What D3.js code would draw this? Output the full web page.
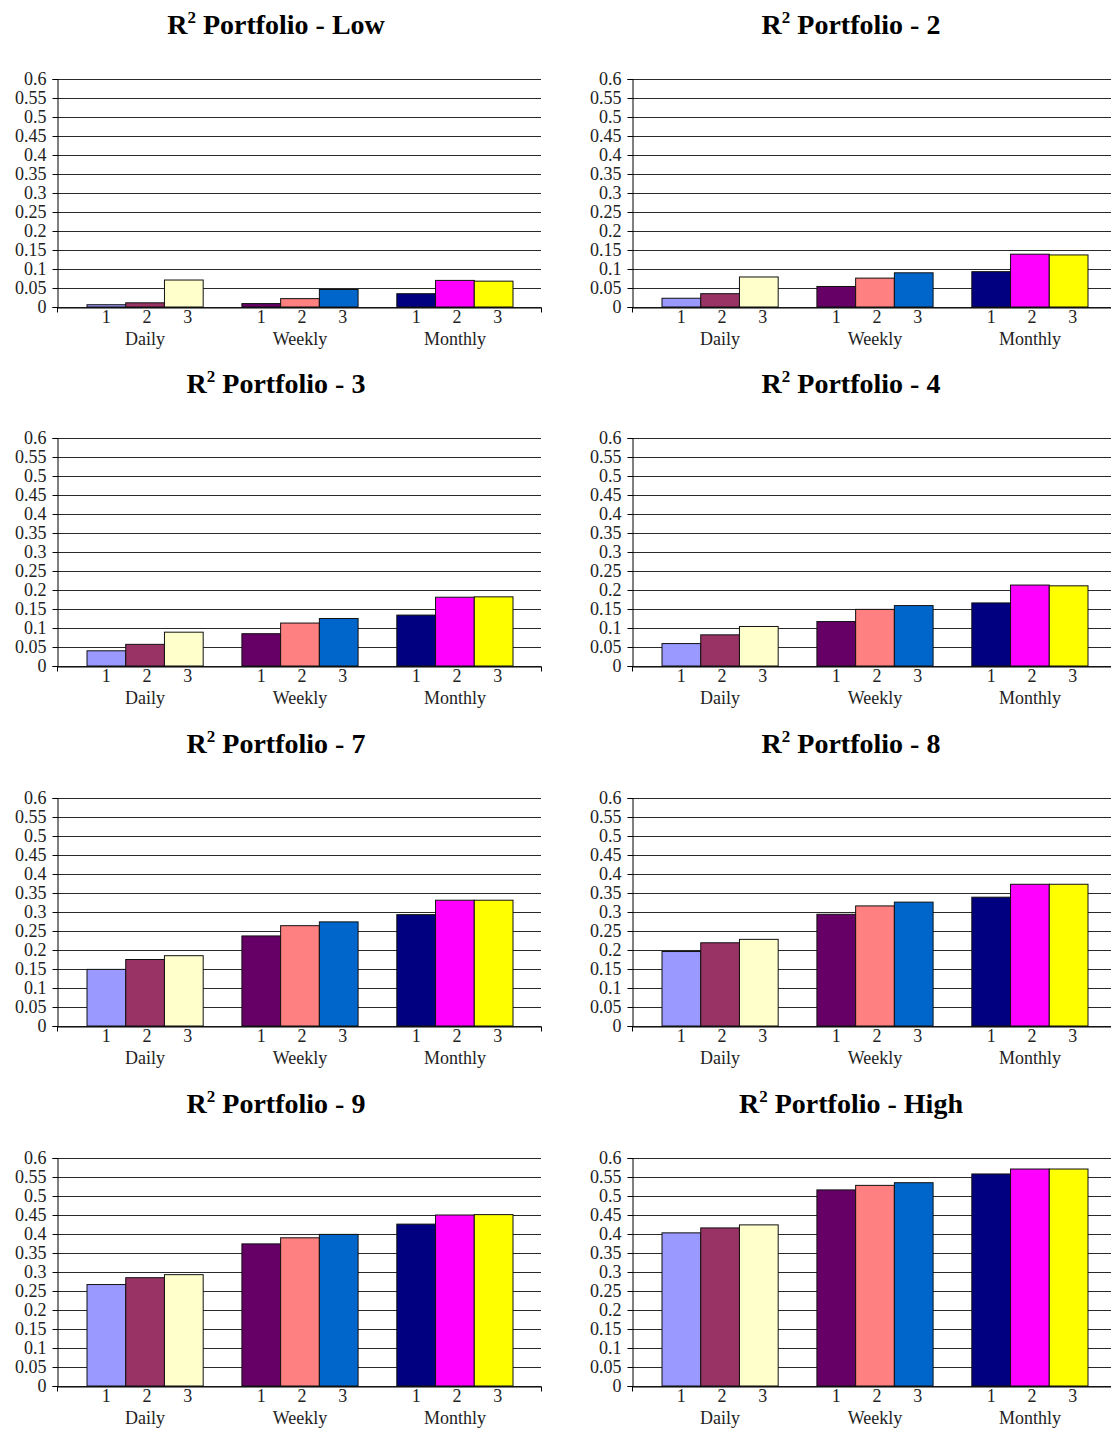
<!DOCTYPE html>
<html><head><meta charset="utf-8">
<script src="https://cdn.jsdelivr.net/npm/d3@7"></script>
<style>body{margin:0;background:#fff} svg{display:block}</style>
</head><body>
<svg id="chart" width="1111" height="1430"></svg>
<script>
// ---- data ----
const panelNames = ["Low", "2", "3", "4", "7", "8", "9", "High"];
const frequencies = ["Daily", "Weekly", "Monthly"];
const lags = ["1", "2", "3"];
const yTickValues = [0, 0.05, 0.1, 0.15, 0.2, 0.25, 0.3, 0.35, 0.4, 0.45, 0.5, 0.55, 0.6];
const yTickLabels = ["0", "0.05", "0.1", "0.15", "0.2", "0.25", "0.3", "0.35", "0.4", "0.45", "0.5", "0.55", "0.6"];

// values per panel: [Daily 1,2,3], [Weekly 1,2,3], [Monthly 1,2,3]
const r2Low  = [[0.006, 0.011, 0.071], [0.009, 0.022, 0.046], [0.035, 0.070, 0.068]];
const r2P2   = [[0.023, 0.035, 0.079], [0.054, 0.076, 0.090], [0.093, 0.139, 0.137]];
const r2P3   = [[0.040, 0.057, 0.089], [0.085, 0.113, 0.125], [0.134, 0.181, 0.182]];
const r2P4   = [[0.059, 0.082, 0.104], [0.117, 0.149, 0.159], [0.166, 0.213, 0.211]];
const r2P7   = [[0.149, 0.175, 0.185], [0.237, 0.264, 0.274], [0.293, 0.331, 0.331]];
const r2P8   = [[0.196, 0.219, 0.228], [0.294, 0.316, 0.326], [0.339, 0.373, 0.373]];
const r2P9   = [[0.267, 0.285, 0.293], [0.374, 0.390, 0.399], [0.426, 0.450, 0.451]];
const r2High = [[0.403, 0.416, 0.424], [0.516, 0.528, 0.535], [0.558, 0.571, 0.571]];
const panelValues = [r2Low, r2P2, r2P3, r2P4, r2P7, r2P8, r2P9, r2High];

const barColors = [
  ["#9999FF", "#993366", "#FFFFCC"],
  ["#660066", "#FF8080", "#0066CC"],
  ["#000080", "#FF00FF", "#FFFF00"]
];

// ---- layout ----
const font = "'Liberation Serif','Times New Roman',serif";
const colLeft = [57, 632];
const rowTop = [79, 438, 798, 1158];
const plotW = 484, plotH = 228;

const svg = d3.select("#chart");
const y = d3.scaleLinear().domain([0, 0.6]).range([plotH, 0]);
const xGroup = d3.scaleBand().domain(frequencies).range([30, 456]).paddingInner(0.25).paddingOuter(0);
const xSub = d3.scaleBand().domain(lags).range([0, xGroup.bandwidth()]);
const xEnds = d3.scaleLinear().domain([0, 1]).range([0, plotW]);

panelNames.forEach((name, i) => {
  const col = i % 2, row = Math.floor(i / 2);
  const g = svg.append("g").attr("transform", `translate(${colLeft[col]},${rowTop[row]})`);

  // title
  const t = g.append("text")
    .attr("x", 219).attr("y", -45)
    .attr("text-anchor", "middle")
    .attr("font-family", font).attr("font-weight", "bold").attr("font-size", 28)
    .attr("fill", "#000");
  t.append("tspan").text("R");
  t.append("tspan").attr("dy", -11).attr("font-size", 17).text("2");
  t.append("tspan").attr("dy", 11).text(" Portfolio - " + name);

  // gridlines
  g.append("g").selectAll("line").data(yTickValues).join("line")
    .attr("x1", 0).attr("x2", plotW)
    .attr("y1", d => y(d) + 0.5).attr("y2", d => y(d) + 0.5)
    .attr("stroke", "#2a2a2a").attr("stroke-width", 1);

  // y axis
  const ya = g.append("g").attr("transform", "translate(0.5,0)")
    .call(d3.axisLeft(y).tickValues(yTickValues)
      .tickFormat((d, k) => yTickLabels[k]).tickSize(5).tickPadding(6));
  ya.select(".domain").attr("stroke", "#000");
  ya.selectAll(".tick line").attr("stroke", "#000");
  ya.selectAll("text").attr("font-family", font).attr("font-size", 18).attr("fill", "#222");

  // bars
  const vals = panelValues[i];
  frequencies.forEach((f, fi) => {
    g.append("g").selectAll("rect").data(vals[fi]).join("rect")
      .attr("x", (d, k) => xGroup(f) + xSub(lags[k]))
      .attr("y", d => y(d))
      .attr("width", xSub.bandwidth())
      .attr("height", d => plotH - y(d))
      .attr("fill", (d, k) => barColors[fi][k])
      .attr("stroke", "#111").attr("stroke-width", 1);

    g.append("g").selectAll("text").data(lags).join("text")
      .attr("x", l => xGroup(f) + xSub(l) + xSub.bandwidth() / 2 + (+l - 1) * 2)
      .attr("y", plotH + 16)
      .attr("text-anchor", "middle")
      .attr("font-family", font).attr("font-size", 18).attr("fill", "#222")
      .text(l => l);

    g.append("text")
      .attr("x", xGroup(f) + xGroup.bandwidth() / 2)
      .attr("y", plotH + 38)
      .attr("text-anchor", "middle")
      .attr("font-family", font).attr("font-size", 18).attr("fill", "#222")
      .text(f);
  });

  // x axis
  const xa = g.append("g").attr("transform", `translate(0,${plotH + 0.5})`)
    .call(d3.axisBottom(xEnds).tickValues([0, 1]).tickFormat("").tickSize(5).tickSizeOuter(0));
  xa.select(".domain").attr("stroke", "#000");
  xa.selectAll(".tick line").attr("stroke", "#000");
});
</script>
</body></html>
